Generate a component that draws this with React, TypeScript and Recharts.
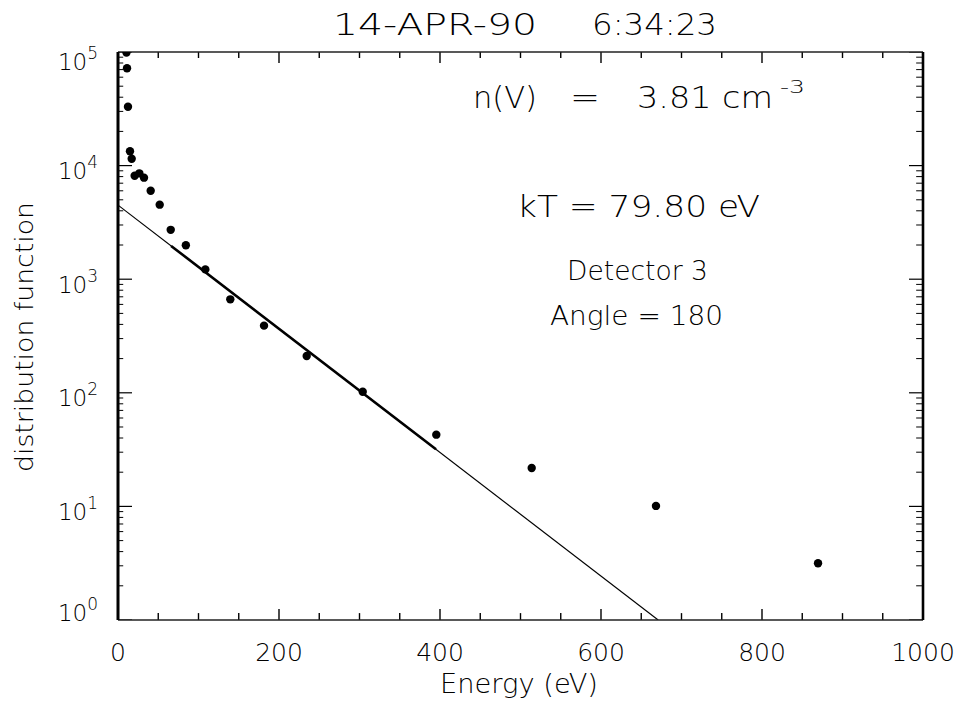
import React from 'react';
import { ComposedChart, XAxis, YAxis, Scatter, Line } from 'recharts';

// Measured distribution (Energy in eV, distribution function)
const energy = [10.5, 11.2, 12.4, 14.9, 17.0, 20.7, 26.5, 32.3, 40.6, 51.8, 65.5, 84.3, 108.5, 139.5, 181.4, 234.4, 304, 395.4, 513.9, 668.3, 869.6];
const distribution = [99000, 72000, 33000, 13400, 11500, 8150, 8550, 7830, 6010, 4530, 2720, 1990, 1220, 665, 390, 211, 102, 42.8, 21.8, 10.1, 3.16];

// Maxwellian fit line (full extent) and the fitted range (drawn thicker)
const fitEnergy = [0, 671];
const fitValue = [4490, 1];
const fitRangeEnergy = [66, 395];
const fitRangeValue = [1963, 31.8];

// Axis ticks
const xMajorTicks = [0, 200, 400, 600, 800, 1000];
const xMinorTicks = [50, 100, 150, 250, 300, 350, 450, 500, 550, 650, 700, 750, 850, 900, 950];
const yMajorTicks = [1, 10, 100, 1000, 10000, 100000];
const yExponents = ['0', '1', '2', '3', '4', '5'];
const yMinorMultipliers = [2, 3, 4, 5, 6, 7, 8, 9];

const title = ['14-APR-90', '6:34:23'];

const X_MIN = 0;
const X_MAX = 1000;
const Y_MIN = 1;
const Y_MAX = 100000;

// inward tick lengths in axis units (log factor for the x ticks, eV for the y ticks)
const X_TICK_MAJOR_FACTOR = 1.25;
const X_TICK_MINOR_FACTOR = 1.15;
const X_TICK_MINOR_FACTOR_TOP = 1.13;
const Y_TICK_MAJOR_EV = 17.4;
const Y_TICK_MINOR_EV = 6.5;
const Y_TICK_MINOR_EV_RIGHT = 8.5;

const points = energy.map((e, i) => ({ E: e, f: distribution[i] }));
const fitLine = fitEnergy.map((e, i) => ({ E: e, f: fitValue[i] }));
const fitRange = fitRangeEnergy.map((e, i) => ({ E: e, f: fitRangeValue[i] }));

const yMinorTicks: number[] = [];
yMajorTicks.slice(0, -1).forEach((d) => yMinorMultipliers.forEach((m) => yMinorTicks.push(d * m)));

type Seg = { key: string; data: { E: number; f: number }[]; w: number };
const tickSegments: Seg[] = [];
xMajorTicks.forEach((v) => {
  tickSegments.push({ key: `bM${v}`, data: [{ E: v, f: Y_MIN }, { E: v, f: Y_MIN * X_TICK_MAJOR_FACTOR }], w: 1.4 });
  tickSegments.push({ key: `tM${v}`, data: [{ E: v, f: Y_MAX }, { E: v, f: Y_MAX / X_TICK_MAJOR_FACTOR }], w: 1.4 });
});
xMinorTicks.forEach((v) => {
  tickSegments.push({ key: `bm${v}`, data: [{ E: v, f: Y_MIN }, { E: v, f: Y_MIN * X_TICK_MINOR_FACTOR }], w: 1.4 });
  tickSegments.push({ key: `tm${v}`, data: [{ E: v, f: Y_MAX }, { E: v, f: Y_MAX / X_TICK_MINOR_FACTOR_TOP }], w: 1.4 });
});
yMajorTicks.forEach((v) => {
  tickSegments.push({ key: `lM${v}`, data: [{ E: X_MIN, f: v }, { E: X_MIN + Y_TICK_MAJOR_EV, f: v }], w: 1.2 });
  tickSegments.push({ key: `rM${v}`, data: [{ E: X_MAX, f: v }, { E: X_MAX - Y_TICK_MAJOR_EV, f: v }], w: 1.2 });
});
yMinorTicks.forEach((v) => {
  tickSegments.push({ key: `lm${v}`, data: [{ E: X_MIN, f: v }, { E: X_MIN + Y_TICK_MINOR_EV, f: v }], w: 1 });
  tickSegments.push({ key: `rm${v}`, data: [{ E: X_MAX, f: v }, { E: X_MAX - Y_TICK_MINOR_EV_RIGHT, f: v }], w: 1 });
});

const FONT = "'DejaVu Sans', sans-serif";
const FW = 200;

const X_LABEL_BASELINE = 661;
const Y_LABEL_RIGHT = 98;

const BottomLabel = (props: any) => {
  const { x, payload } = props;
  return (
    <text x={x} y={X_LABEL_BASELINE} textAnchor="middle" fontSize={25} fontFamily={FONT} fontWeight={FW} fill="#000">
      {payload.value}
    </text>
  );
};

const LeftLabel = (props: any) => {
  const { y, payload } = props;
  const idx = yMajorTicks.indexOf(payload.value);
  let dy = 13.5;
  if (payload.value === 1) dy = 0.5;
  if (payload.value === 100000) dy = 18;
  return (
    <text x={Y_LABEL_RIGHT} y={y + dy} textAnchor="end" fontFamily={FONT} fontWeight={FW} fill="#000">
      <tspan fontSize={23}>10</tspan>
      <tspan fontSize={17} dy={-11}>{yExponents[idx]}</tspan>
    </text>
  );
};

const Empty = () => <g />;

const Dot = (props: any) => {
  const { cx, cy } = props;
  if (cx == null || cy == null) return null;
  return <circle cx={cx} cy={cy} r={4.2} fill="#000" />;
};

const txt = { fontFamily: FONT, fontWeight: FW, fill: '#000' } as const;

export default function App() {
  return (
    <div style={{ position: 'absolute', left: 0, top: 0, width: 961, height: 706, background: '#fff' }}>
      <ComposedChart
        width={961}
        height={706}
        margin={{ top: 42, right: 28, bottom: 56, left: 58 }}
        style={{ position: 'absolute', left: 0, top: 0 }}
      >
        <XAxis
          xAxisId="bottom"
          dataKey="E"
          type="number"
          domain={[X_MIN, X_MAX]}
          ticks={xMajorTicks}
          interval={0}
          allowDataOverflow
          height={30}
          tickSize={0}
          tickMargin={0}
          tickLine={false}
          axisLine={{ stroke: '#222', strokeWidth: 1.6 }}
          tick={(p: any) => <BottomLabel {...p} />}
        />
        <XAxis
          xAxisId="top"
          orientation="top"
          type="number"
          domain={[X_MIN, X_MAX]}
          ticks={xMajorTicks}
          interval={0}
          height={10}
          tickSize={0}
          tickMargin={0}
          tickLine={false}
          axisLine={{ stroke: '#222', strokeWidth: 1.6 }}
          tick={(p: any) => <Empty />}
        />
        <YAxis
          yAxisId="left"
          dataKey="f"
          type="number"
          scale="log"
          domain={[Y_MIN, Y_MAX]}
          ticks={yMajorTicks}
          interval={0}
          allowDataOverflow
          width={60}
          tickSize={0}
          tickMargin={0}
          tickLine={false}
          axisLine={{ stroke: '#000', strokeWidth: 3 }}
          tick={(p: any) => <LeftLabel {...p} />}
        />
        <YAxis
          yAxisId="right"
          orientation="right"
          type="number"
          scale="log"
          domain={[Y_MIN, Y_MAX]}
          ticks={yMajorTicks}
          interval={0}
          width={10}
          tickSize={0}
          tickMargin={0}
          tickLine={false}
          axisLine={{ stroke: '#000', strokeWidth: 2.6 }}
          tick={(p: any) => <Empty />}
        />

        {tickSegments.map((s) => (
          <Line
            key={s.key}
            xAxisId="bottom"
            yAxisId="left"
            data={s.data}
            dataKey="f"
            stroke="#000"
            strokeWidth={s.w}
            dot={false}
            activeDot={false}
            legendType="none"
            isAnimationActive={false}
          />
        ))}

        <Line
          xAxisId="bottom"
          yAxisId="left"
          data={fitLine}
          dataKey="f"
          stroke="#000"
          strokeWidth={1.2}
          dot={false}
          activeDot={false}
          isAnimationActive={false}
        />
        <Line
          xAxisId="bottom"
          yAxisId="left"
          data={fitRange}
          dataKey="f"
          stroke="#000"
          strokeWidth={2.6}
          dot={false}
          activeDot={false}
          isAnimationActive={false}
        />
        <Scatter
          xAxisId="bottom"
          yAxisId="left"
          data={points}
          dataKey="f"
          fill="#000"
          shape={(p: any) => <Dot {...p} />}
          isAnimationActive={false}
        />
      </ComposedChart>
      <svg width={961} height={706} style={{ position: 'absolute', left: 0, top: 0, pointerEvents: 'none' }}>
        <text x={333} y={35} fontSize={30} textLength={204} lengthAdjust="spacingAndGlyphs" {...txt}>{title[0]}</text>
        <text x={592} y={35} fontSize={30} textLength={125} lengthAdjust="spacingAndGlyphs" {...txt}>{title[1]}</text>

        <text x={473} y={108} fontSize={30} textLength={64} lengthAdjust="spacingAndGlyphs" {...txt}>n(V)</text>
        <text x={570} y={108} fontSize={30} textLength={30} lengthAdjust="spacingAndGlyphs" {...txt}>=</text>
        <text x={637} y={108} fontSize={30} textLength={136} lengthAdjust="spacingAndGlyphs" {...txt}>3.81 cm</text>
        <text x={780} y={93} fontSize={17} textLength={25} lengthAdjust="spacingAndGlyphs" {...txt}>-3</text>

        <text x={517} y={217} fontSize={30} textLength={243} lengthAdjust="spacingAndGlyphs" {...txt}>kT = 79.80 eV</text>
        <text x={567} y={280} fontSize={26} textLength={141} lengthAdjust="spacingAndGlyphs" {...txt}>Detector 3</text>
        <text x={550} y={325} fontSize={26} textLength={173} lengthAdjust="spacingAndGlyphs" {...txt}>Angle = 180</text>

        <text x={440} y={693} fontSize={26} textLength={158} lengthAdjust="spacingAndGlyphs" {...txt}>Energy (eV)</text>
        <text
          transform="translate(33,337) rotate(-90)"
          x={0}
          y={0}
          textAnchor="middle"
          fontSize={24}
          textLength={270}
          lengthAdjust="spacingAndGlyphs"
          {...txt}
        >
          distribution function
        </text>
      </svg>
    </div>
  );
}
